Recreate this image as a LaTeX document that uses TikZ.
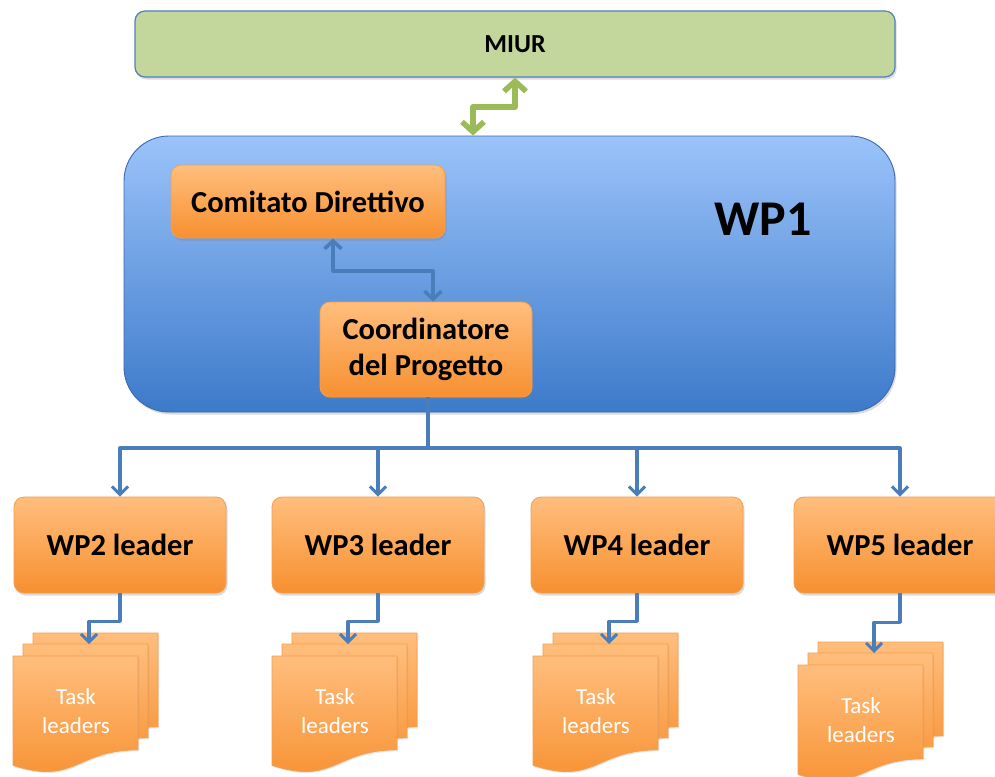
\documentclass[tikz,border=0pt]{standalone}
\usepackage{fontspec}
\setmainfont{Carlito}
\usetikzlibrary{arrows.meta,shadows}

\definecolor{miurfill}{RGB}{195,214,155}
\definecolor{frameblue}{RGB}{79,129,189}
\definecolor{wptop}{RGB}{155,195,250}
\definecolor{wpbot}{RGB}{60,122,202}
\definecolor{wpedge}{RGB}{60,105,170}
\definecolor{ortop}{RGB}{255,190,125}
\definecolor{orbot}{RGB}{247,144,48}
\definecolor{oredge}{RGB}{243,158,80}
\definecolor{linkblue}{RGB}{74,126,187}
\definecolor{linkgreen}{RGB}{155,187,89}

\tikzset{
  softshadow/.style={drop shadow={opacity=0.28, shadow xshift=1.5pt, shadow yshift=-2.5pt}},
  orangebox/.style={rounded corners=10pt, draw=oredge, line width=0.8pt,
    top color=ortop, bottom color=orbot, softshadow,
    font=\fontsize{30.5}{36}\selectfont\bfseries, align=center, inner sep=0pt},
  leaderbox/.style={orangebox, minimum width=212pt, minimum height=96pt},
  pagestyle/.style={draw=oredge, line width=0.8pt, top color=ortop, bottom color=orbot,
    drop shadow={opacity=0.2, shadow xshift=1pt, shadow yshift=-1.5pt}},
  tasktext/.style={text=white, font=\fontsize{23}{29}\selectfont, align=center, inner sep=0pt},
  bluelink/.style={draw=linkblue, line width=3.2pt, line join=round,
    arrows={-Straight Barb[length=8pt, width=16pt, line width=3pt]}},
  greenlink/.style={draw=linkgreen, line width=6pt, line cap=round, line join=round,
    arrows={Straight Barb[length=10pt, width=22pt, line width=5.5pt]-Straight Barb[length=10pt, width=22pt, line width=5.5pt]}}
}

% one sheet of a "document" stack, top-left corner at the given offset
\newcommand{\docsheet}[2]{%
  \path[pagestyle, shift={(#1,#2)}] (0,0) -- (125,0) -- (125,93.8)
    .. controls (62.5,93.8) and (62.5,129.6) .. (0,109.3) -- cycle;}

% a stack of three sheets labelled "Task leaders"; #1 name, (#2,#3) front sheet corner
\newcommand{\taskstack}[3]{%
  \begin{scope}[shift={(#2,#3)}]
    \docsheet{20}{-23}
    \docsheet{10}{-12}
    \docsheet{0}{0}
    \node[tasktext] (#1) at (63,55) {Task\\leaders};
    \coordinate (#1-in) at (76,-12);
  \end{scope}}

\begin{document}
\begin{tikzpicture}[x=1pt, y=-1pt]
  \clip (0,0) rectangle (995,776);
  \fill[white] (0,0) rectangle (995,776);

  % ministry
  \node[draw=frameblue, line width=1.2pt, fill=miurfill, rounded corners=10pt, softshadow,
        minimum width=760pt, minimum height=66pt, inner sep=0pt,
        font=\fontsize{26}{30}\selectfont\bfseries] (miur) at (515,44) {MIUR};

  % work package 1 container
  \node[draw=wpedge, line width=0.9pt, rounded corners=45pt, top color=wptop, bottom color=wpbot,
        softshadow, minimum width=771pt, minimum height=276pt, inner sep=0pt] (wp1) at (509.5,274) {};
  \node[font=\fontsize{50}{60}\selectfont\bfseries, inner sep=0pt] (wp1label) at (763,219) {WP1};

  \node[orangebox, minimum width=274pt, minimum height=73pt] (comitato) at (308,201.5) {Comitato Direttivo};
  \node[orangebox, minimum width=212pt, minimum height=95pt] (coord) at (426,349.5) {Coordinatore\\del Progetto};

  % work package leaders
  \node[leaderbox] (wp2) at (120,545) {WP2 leader};
  \node[leaderbox] (wp3) at (378,545) {WP3 leader};
  \node[leaderbox] (wp4) at (637,545) {WP4 leader};
  \node[leaderbox] (wp5) at (900,545) {WP5 leader};

  % task leader stacks
  \taskstack{t2}{13}{656}
  \taskstack{t3}{272}{656}
  \taskstack{t4}{533}{656}
  \taskstack{t5}{798}{665}

  % connectors
  \draw[greenlink] (wp1.north -| 473,0) -- (473,107) -| (miur.south);
  \draw[bluelink, line width=4.2pt,
        arrows={Straight Barb[length=8pt, width=17pt, line width=3.6pt]-Straight Barb[length=8pt, width=17pt, line width=3.6pt]}]
    (comitato.south -| 333,0) -- (333,271) -| (coord.north -| 433,0);

  \foreach \w in {wp2,wp3,wp4,wp5}
    \draw[bluelink] (coord.south -| 428,0) -- (428,448) -| (\w.north);

  \draw[bluelink] (wp2.south) -- ++(0,28) -| (t2-in);
  \draw[bluelink] (wp3.south) -- ++(0,28) -| (t3-in);
  \draw[bluelink] (wp4.south) -- ++(0,28) -| (t4-in);
  \draw[bluelink] (wp5.south) -- ++(0,29) -| (t5-in);
\end{tikzpicture}
\end{document}
